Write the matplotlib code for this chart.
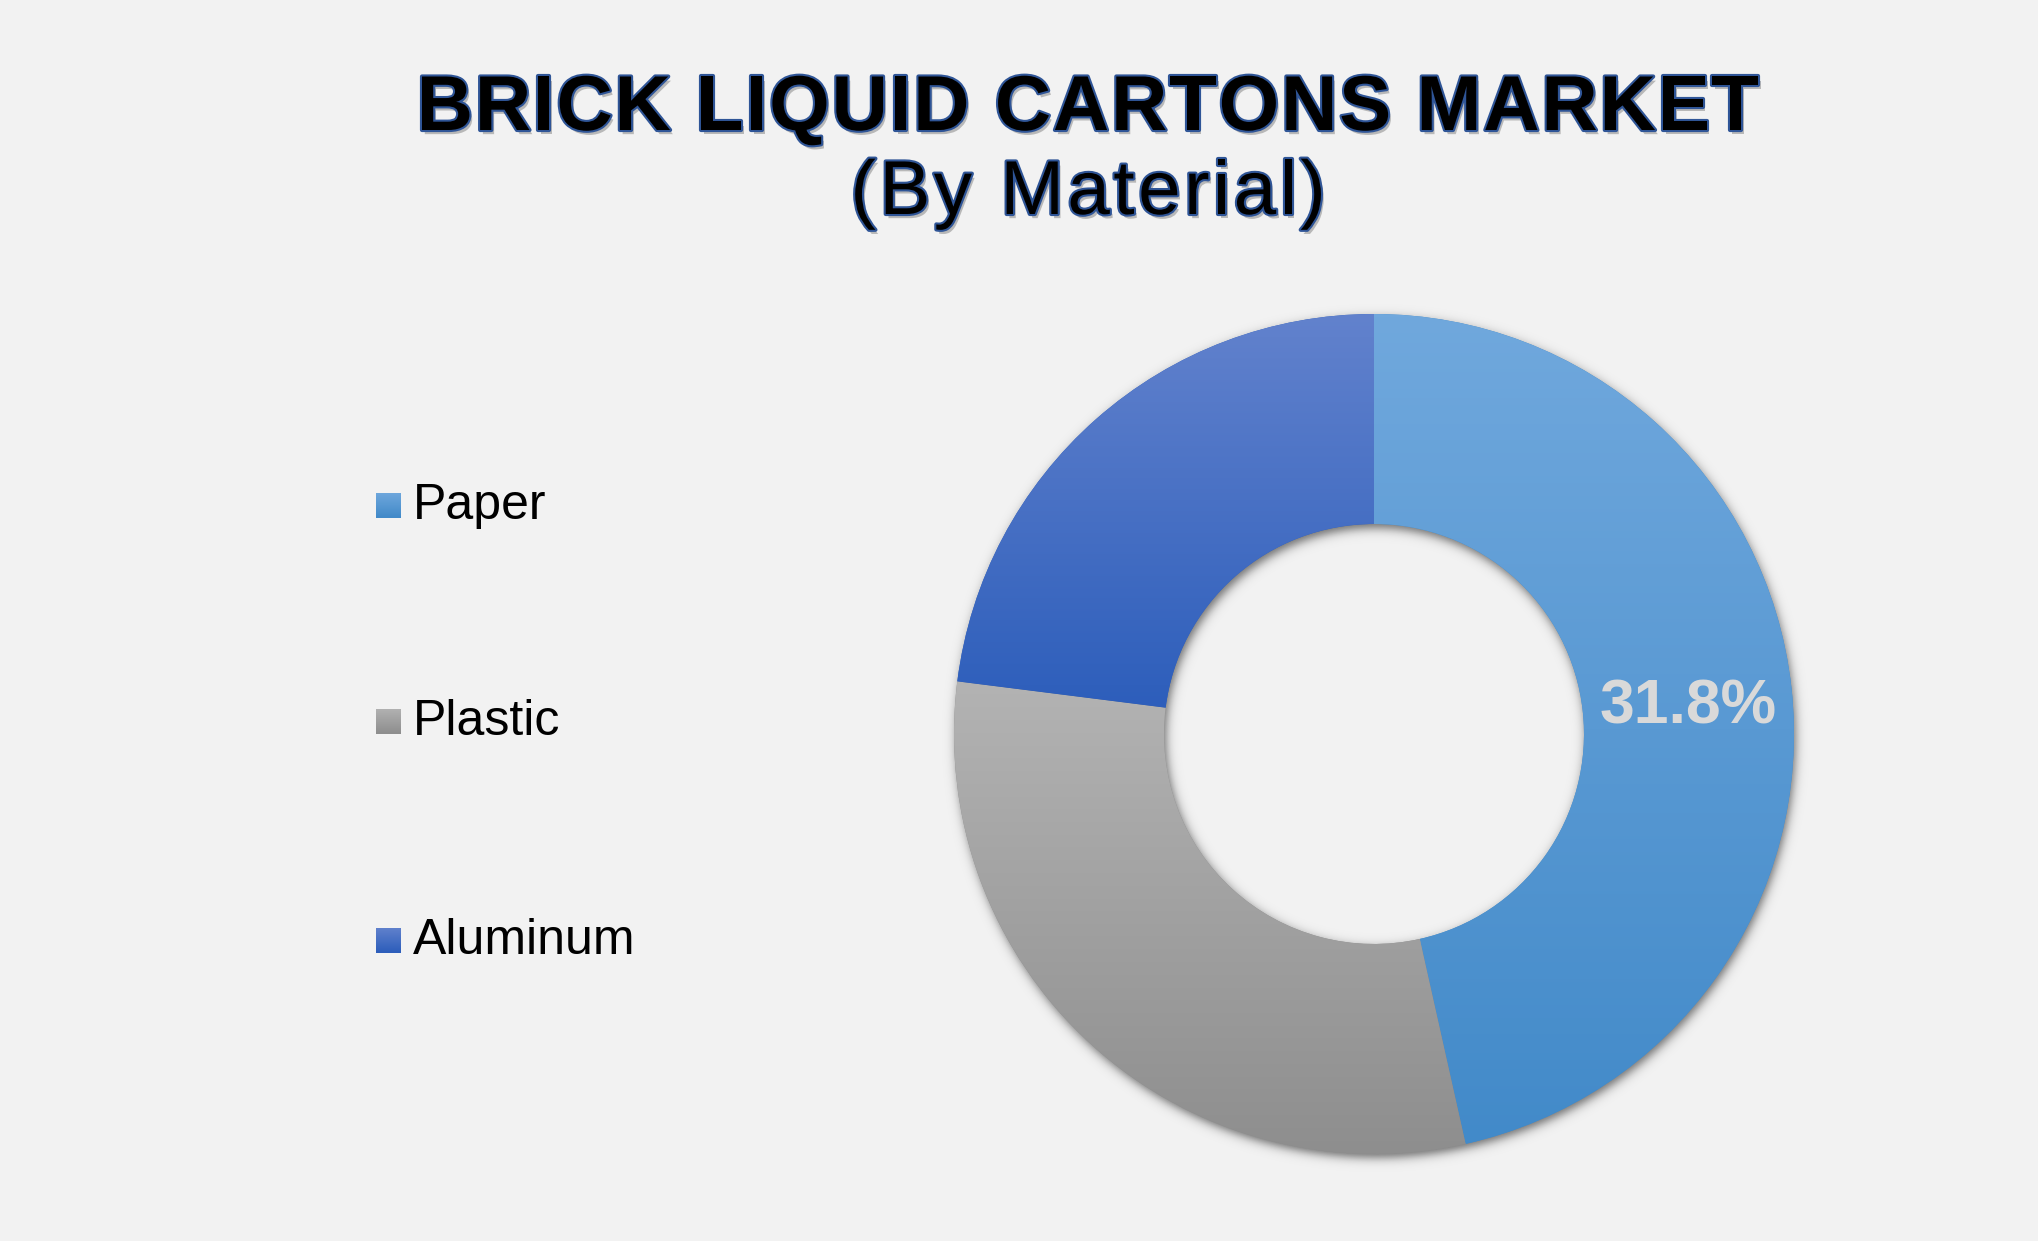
import numpy as np
import matplotlib
matplotlib.use("Agg")
from matplotlib import pyplot as plt
from matplotlib import patheffects as pe
from matplotlib.colors import LinearSegmentedColormap
from matplotlib.patches import Rectangle
from matplotlib.font_manager import findfont, FontProperties
from matplotlib.ft2font import FT2Font

# data
materials = ["Paper", "Plastic", "Aluminum"]
shares = [46.5, 30.5, 23.0]
label_text = "31.8%"
top_colors = ["#70a8dd", "#b3b3b3", "#6282cd"]
bottom_colors = ["#428ac9", "#8e8e8e", "#2d5ebb"]

W, H = 2038, 1241
cx, cy, R = 1374, 507, 420
hole = 0.5
bg = "#f2f2f2"

plt.rcParams['font.family'] = ['Liberation Sans', 'DejaVu Sans']

fig = plt.figure(figsize=(W / 100, H / 100), dpi=100, facecolor=bg)
ax = fig.add_axes([0, 0, 1, 1])
ax.set_xlim(0, W)
ax.set_ylim(0, H)
ax.set_facecolor(bg)
ax.axis('off')


def spaced_text(xc, y, s, size, weight, spacing, **kw):
    # draws a string one glyph at a time with extra letter spacing (px)
    fp = FontProperties(family='Liberation Sans', weight=weight)
    font = FT2Font(findfont(fp), hinting_factor=1)
    font.set_size(size, 100)
    adv = [font.load_char(ord(ch)).linearHoriAdvance / 65536.0 for ch in s]
    total = sum(adv) + spacing * (len(s) - 1)
    x = xc - total / 2
    for ch, a in zip(s, adv):
        ax.text(x, y, ch, ha='left', va='baseline', fontsize=size,
                fontweight=weight, **kw)
        x += a + spacing


# soft shadow under the ring
xs = np.arange(cx - R - 60, cx + R + 60)
ys = np.arange(cy - R - 60, cy + R + 60)
gx, gy = np.meshgrid(xs, ys)
rr = np.hypot(gx - (cx + 2), gy - (cy - 4))
sig = 6.0
outer = 0.5 * (1 - np.tanh((rr - R) / sig))
inner = 0.5 * (1 + np.tanh((rr - R * hole) / sig))
alpha = outer * inner * 0.55
shadow = np.zeros(gx.shape + (4,))
shadow[..., 3] = alpha
ax.imshow(shadow, extent=[xs[0], xs[-1], ys[0], ys[-1]], origin='lower',
          zorder=1, interpolation='bilinear')

wedges, _ = ax.pie(shares, center=(cx, cy), radius=R, startangle=90,
                   counterclock=False, colors=bottom_colors,
                   wedgeprops=dict(width=R * (1 - hole), linewidth=0, zorder=2))
ax.set_xlim(0, W)
ax.set_ylim(0, H)
ax.set_aspect('auto')

# vertical gradient inside each wedge
grad = np.linspace(0, 1, 256).reshape(-1, 1)
for w, c0, c1 in zip(wedges, top_colors, bottom_colors):
    bb = w.get_path().get_extents()
    cmap = LinearSegmentedColormap.from_list('g', [c1, c0])
    im = ax.imshow(grad, cmap=cmap, aspect='auto', origin='lower',
                   extent=[bb.x0, bb.x1, bb.y0, bb.y1], zorder=3)
    im.set_clip_path(w)

ax.text(1688, 534, label_text, ha='center', va='center', fontsize=45,
        fontweight='bold', color='#d9d9d9', zorder=5)

# legend
leg_base = [722, 506, 287]
for name, yb, c0, c1 in zip(materials, leg_base, top_colors, bottom_colors):
    y = yb + 14
    sq = Rectangle((376, y - 12.5), 25, 25, facecolor=c1, linewidth=0, zorder=3)
    ax.add_patch(sq)
    cmap = LinearSegmentedColormap.from_list('g', [c1, c0])
    im = ax.imshow(grad, cmap=cmap, aspect='auto', origin='lower',
                   extent=[376, 401, y - 12.5, y + 12.5], zorder=4)
    im.set_clip_path(sq)
    ax.text(413, yb, name, ha='left', va='baseline', fontsize=36, color='black')

# titles
effects = [pe.withSimplePatchShadow(offset=(2, -3), shadow_rgbFace='#7f7f7f', alpha=0.5),
           pe.Stroke(linewidth=3, foreground='#2f5597'), pe.Normal()]
spaced_text(1088, 1111, "BRICK LIQUID CARTONS MARKET", 56, 'bold', 1.8,
            color='black', path_effects=effects)
spaced_text(1088, 1027, "(By Material)", 55, 'normal', 3.7,
            color='black', path_effects=effects)

plt.savefig('out.png', dpi=100, facecolor=bg)
